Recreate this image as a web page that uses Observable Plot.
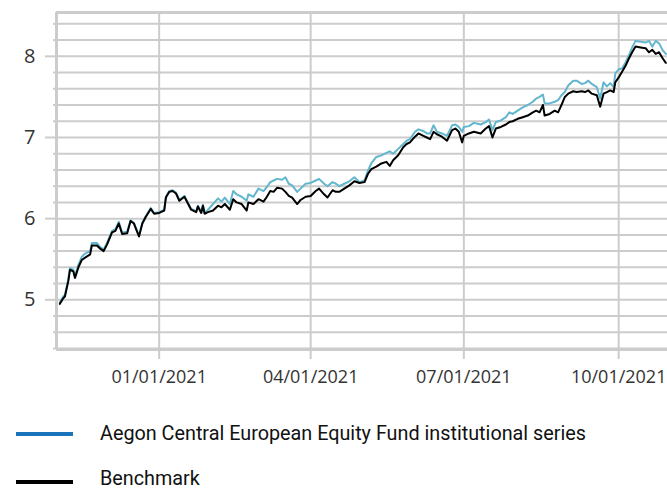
<!DOCTYPE html>
<html>
<head>
<meta charset="utf-8">
<script src="https://cdn.jsdelivr.net/npm/d3@7"></script>
<script src="https://cdn.jsdelivr.net/npm/@observablehq/plot@0.6"></script>
<style>
  html, body { margin: 0; padding: 0; background: #fff; }
  #wrap { position: relative; width: 667px; height: 489px; overflow: hidden; }
  #chart { position: absolute; left: 0; top: 0; }
  .sw { position: absolute; left: 16px; width: 57px; height: 4px; }
  .lt { position: absolute; left: 100px; font-family: Roboto, "DejaVu Sans Condensed", sans-serif; font-size: 19.8px; color: #111; line-height: 20px; white-space: nowrap; }
</style>
</head>
<body>
<div id="wrap">
  <div id="chart"></div>
  <div class="sw" style="top:432px;background:#1a74bb"></div>
  <div class="lt" style="top:424px">Aegon Central European Equity Fund institutional series</div>
  <div class="sw" style="top:480px;background:#000"></div>
  <div class="lt" style="top:469px">Benchmark</div>
</div>
<script>
const dates = [
"2020-11-03","2020-11-05","2020-11-06","2020-11-08","2020-11-09","2020-11-11","2020-11-12","2020-11-14","2020-11-16","2020-11-18","2020-11-21","2020-11-22","2020-11-25","2020-11-27","2020-11-29",
"2020-12-01","2020-12-04","2020-12-06","2020-12-08","2020-12-10","2020-12-13","2020-12-15","2020-12-17","2020-12-20","2020-12-22","2020-12-24","2020-12-27","2020-12-29",
"2021-01-01","2021-01-04","2021-01-05","2021-01-07","2021-01-09","2021-01-11","2021-01-13","2021-01-16","2021-01-18","2021-01-20","2021-01-23","2021-01-24","2021-01-26","2021-01-27","2021-01-28","2021-01-30",
"2021-02-02","2021-02-05","2021-02-07","2021-02-09","2021-02-12","2021-02-14","2021-02-16","2021-02-19","2021-02-22","2021-02-23","2021-02-26",
"2021-03-01","2021-03-04","2021-03-06","2021-03-08","2021-03-10","2021-03-12","2021-03-15","2021-03-17","2021-03-19","2021-03-21","2021-03-24","2021-03-26","2021-03-29",
"2021-04-01","2021-04-04","2021-04-06","2021-04-09","2021-04-11","2021-04-14","2021-04-16","2021-04-18","2021-04-21","2021-04-24","2021-04-27","2021-04-30",
"2021-05-03","2021-05-05","2021-05-07","2021-05-10","2021-05-13","2021-05-16","2021-05-18","2021-05-20","2021-05-23","2021-05-26","2021-05-28","2021-05-30",
"2021-06-02","2021-06-04","2021-06-07","2021-06-09","2021-06-11","2021-06-13","2021-06-15","2021-06-18","2021-06-21","2021-06-24","2021-06-26","2021-06-28","2021-06-30",
"2021-07-01","2021-07-04","2021-07-07","2021-07-11","2021-07-14","2021-07-16","2021-07-18","2021-07-20","2021-07-23","2021-07-26","2021-07-28","2021-07-30",
"2021-08-02","2021-08-05","2021-08-08","2021-08-11","2021-08-13","2021-08-15","2021-08-17","2021-08-18","2021-08-21","2021-08-24","2021-08-26","2021-08-28","2021-08-30",
"2021-09-01","2021-09-04","2021-09-06","2021-09-09","2021-09-11","2021-09-13","2021-09-15","2021-09-18","2021-09-20","2021-09-22","2021-09-24","2021-09-26","2021-09-28","2021-09-29",
"2021-10-01","2021-10-03","2021-10-05","2021-10-07","2021-10-09","2021-10-11","2021-10-14","2021-10-17","2021-10-19","2021-10-21","2021-10-23","2021-10-25","2021-10-27","2021-10-29"
];

const fund = [
4.97,5.04,5.06,5.25,5.39,5.37,5.29,5.43,5.53,5.57,5.60,5.70,5.70,5.65,5.62,
5.70,5.85,5.87,5.96,5.83,5.84,5.98,5.95,5.79,5.95,6.03,6.13,6.07,
6.08,6.11,6.27,6.34,6.35,6.32,6.23,6.28,6.20,6.12,6.09,6.16,6.08,6.17,6.07,6.11,
6.18,6.25,6.21,6.26,6.18,6.34,6.30,6.27,6.22,6.30,6.27,
6.37,6.34,6.39,6.45,6.47,6.49,6.48,6.51,6.43,6.41,6.33,6.37,6.43,
6.44,6.47,6.49,6.43,6.40,6.45,6.43,6.40,6.43,6.46,6.51,6.45,
6.47,6.59,6.68,6.76,6.78,6.81,6.83,6.80,6.86,6.92,6.96,6.98,
7.07,7.10,7.08,7.05,7.05,7.15,7.07,7.05,7.02,7.15,7.16,7.13,7.07,
7.13,7.14,7.18,7.16,7.19,7.22,7.09,7.19,7.21,7.25,7.31,7.29,
7.33,7.37,7.40,7.44,7.48,7.50,7.53,7.42,7.42,7.44,7.46,7.52,7.56,
7.64,7.70,7.70,7.66,7.67,7.70,7.66,7.62,7.48,7.68,7.63,7.67,7.62,7.79,
7.84,7.85,7.92,8.01,8.11,8.19,8.18,8.17,8.19,8.12,8.19,8.16,8.08,8.03
];

const bench = [
4.95,5.02,5.04,5.23,5.37,5.35,5.27,5.40,5.49,5.52,5.56,5.67,5.67,5.63,5.60,
5.68,5.83,5.85,5.94,5.81,5.82,5.97,5.94,5.78,5.94,6.02,6.12,6.06,
6.07,6.10,6.26,6.33,6.34,6.31,6.22,6.27,6.19,6.11,6.08,6.15,6.07,6.16,6.06,6.08,
6.10,6.16,6.14,6.18,6.11,6.24,6.20,6.18,6.10,6.20,6.18,
6.24,6.21,6.27,6.34,6.33,6.38,6.37,6.33,6.28,6.26,6.18,6.23,6.27,
6.28,6.34,6.37,6.30,6.26,6.35,6.33,6.33,6.37,6.41,6.46,6.44,
6.45,6.55,6.61,6.64,6.68,6.70,6.65,6.72,6.78,6.88,6.92,6.94,
7.01,7.05,7.02,7.00,6.98,7.07,7.04,7.01,6.96,7.09,7.11,7.07,6.94,
7.02,7.05,7.07,7.05,7.11,7.14,7.00,7.11,7.13,7.16,7.19,7.20,
7.23,7.25,7.27,7.31,7.33,7.31,7.40,7.27,7.29,7.33,7.31,7.40,7.50,
7.54,7.57,7.56,7.57,7.56,7.58,7.54,7.52,7.38,7.54,7.56,7.58,7.56,7.68,
7.74,7.81,7.88,7.97,8.05,8.12,8.11,8.10,8.05,8.08,8.03,8.05,7.98,7.92
];

const xTicks = ["2021-01-01", "2021-04-01", "2021-07-01", "2021-10-01"];
const xDomain = ["2020-11-01", "2021-10-30"];
const yMajor = [5, 6, 7, 8];
const yGrid = [4.4, 4.6, 4.8, 5.0, 5.2, 5.4, 5.6, 5.8, 6.0, 6.2, 6.4, 6.6, 6.8, 7.0, 7.2, 7.4, 7.6, 7.8, 8.0, 8.2, 8.4];
const yDomain = [4.4, 8.54];

const parse = d3.utcParse("%Y-%m-%d");
const rows = dates.map((d, i) => ({date: parse(d), fund: fund[i], bench: bench[i]}));
const xTickDates = xTicks.map(parse);
const gridColor = "#cccccc";
const font = "'Open Sans', 'DejaVu Sans', sans-serif";

const chart = Plot.plot({
  width: 667,
  height: 400,
  marginLeft: 56,
  marginRight: 0,
  marginTop: 12,
  marginBottom: 52,
  style: {fontFamily: font, background: "#fff", overflow: "visible"},
  x: {type: "utc", domain: xDomain.map(parse)},
  y: {domain: yDomain},
  marks: [
    Plot.ruleY(yGrid, {stroke: gridColor, strokeWidth: 2}),
    Plot.ruleX(xTickDates, {stroke: gridColor, strokeWidth: 2}),
    Plot.ruleY([yDomain[1]], {stroke: gridColor, strokeWidth: 3}),
    Plot.ruleX([parse(xDomain[0])], {stroke: gridColor, strokeWidth: 3}),
    Plot.ruleY([yDomain[0]], {stroke: gridColor, strokeWidth: 3, dy: 1}),
    Plot.axisY(yGrid.filter(v => !yMajor.includes(v)), {tickSize: 3, stroke: gridColor, strokeWidth: 2, tickFormat: () => "", label: null}),
    Plot.axisY(yMajor, {tickSize: 11, tickPadding: 10, stroke: gridColor, strokeWidth: 2, fill: "#333", fontSize: 20, tickFormat: d3.format("d"), label: null}),
    Plot.axisX(xTickDates, {tickSize: 11, tickPadding: 11, stroke: gridColor, strokeWidth: 2, fill: "#333", fontSize: 18, tickFormat: d3.utcFormat("%m/%d/%Y"), label: null}),
    Plot.lineY(rows, {x: "date", y: "fund", stroke: "#62b6cd", strokeWidth: 2}),
    Plot.lineY(rows, {x: "date", y: "bench", stroke: "#000", strokeWidth: 2})
  ]
});
document.getElementById("chart").appendChild(chart);
</script>
</body>
</html>
